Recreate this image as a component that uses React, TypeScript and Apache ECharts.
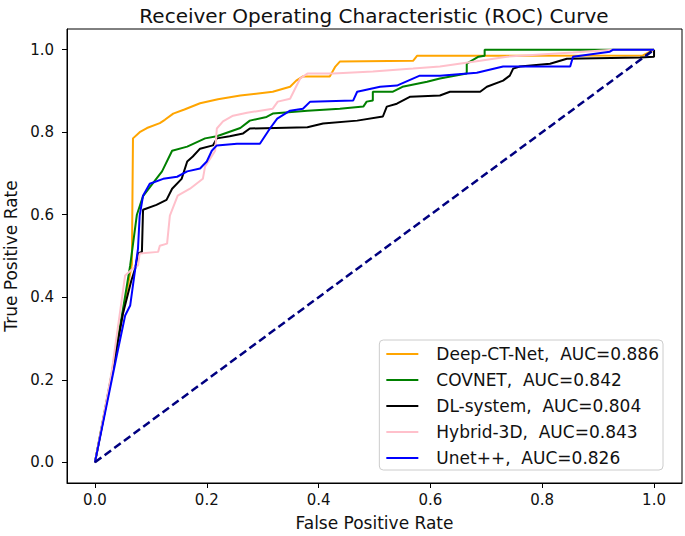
import React, { useEffect, useRef } from "react";
import * as echarts from "echarts";

const tickValues = [0, 0.2, 0.4, 0.6, 0.8, 1.0];

const deepCtNet: number[][] = [
  [0, 0], [0.03, 0.21], [0.055, 0.4], [0.066, 0.48], [0.068, 0.785], [0.08, 0.8], [0.093, 0.81],
  [0.116, 0.822], [0.125, 0.83], [0.14, 0.845], [0.16, 0.855], [0.188, 0.87], [0.22, 0.88],
  [0.26, 0.889], [0.318, 0.898], [0.349, 0.91], [0.36, 0.925], [0.372, 0.935], [0.42, 0.935],
  [0.43, 0.959], [0.438, 0.971], [0.569, 0.973], [0.576, 0.985], [0.98, 0.986], [1, 1],
];

const covnet: number[][] = [
  [0, 0], [0.03, 0.215], [0.05, 0.37], [0.063, 0.477], [0.075, 0.6], [0.086, 0.645], [0.1, 0.67],
  [0.12, 0.705], [0.138, 0.755], [0.165, 0.765], [0.197, 0.785], [0.218, 0.79], [0.26, 0.81],
  [0.277, 0.828], [0.307, 0.837], [0.318, 0.845], [0.38, 0.852], [0.438, 0.857], [0.48, 0.862],
  [0.486, 0.874], [0.497, 0.877], [0.497, 0.898], [0.533, 0.898], [0.55, 0.91], [0.594, 0.922],
  [0.617, 0.93], [0.665, 0.942], [0.665, 0.966], [0.686, 0.983], [0.697, 0.985], [0.697, 1.0], [1, 1],
];

const dlSystem: number[][] = [
  [0, 0], [0.03, 0.21], [0.05, 0.36], [0.065, 0.44], [0.072, 0.47], [0.077, 0.506], [0.084, 0.51],
  [0.086, 0.612], [0.11, 0.624], [0.128, 0.636], [0.138, 0.663], [0.155, 0.687], [0.165, 0.729],
  [0.175, 0.741], [0.188, 0.76], [0.211, 0.768], [0.218, 0.785], [0.241, 0.79], [0.265, 0.797],
  [0.277, 0.809], [0.38, 0.812], [0.408, 0.821], [0.469, 0.828], [0.515, 0.838], [0.522, 0.862],
  [0.54, 0.869], [0.564, 0.886], [0.617, 0.889], [0.635, 0.898], [0.689, 0.898], [0.701, 0.91],
  [0.73, 0.925], [0.742, 0.937], [0.748, 0.954], [0.76, 0.959], [0.814, 0.966], [0.844, 0.978],
  [0.975, 0.981], [1, 0.983], [1, 1],
];

const hybrid3D: number[][] = [
  [0, 0], [0.03, 0.22], [0.054, 0.453], [0.068, 0.47], [0.077, 0.477], [0.08, 0.506], [0.113, 0.51],
  [0.116, 0.525], [0.129, 0.53], [0.134, 0.598], [0.148, 0.646], [0.17, 0.663], [0.193, 0.687],
  [0.197, 0.717], [0.206, 0.736], [0.215, 0.755], [0.218, 0.809], [0.229, 0.826], [0.247, 0.84],
  [0.272, 0.847], [0.318, 0.857], [0.327, 0.874], [0.349, 0.881], [0.367, 0.93], [0.38, 0.942],
  [0.426, 0.942], [0.497, 0.947], [0.569, 0.954], [0.617, 0.959], [0.689, 0.973], [0.737, 0.983],
  [0.855, 0.993], [0.927, 1.0], [1, 1],
];

const unetPP: number[][] = [
  [0, 0], [0.039, 0.259], [0.054, 0.356], [0.063, 0.38], [0.077, 0.518], [0.08, 0.598],
  [0.086, 0.646], [0.098, 0.675], [0.122, 0.687], [0.147, 0.692], [0.165, 0.705], [0.188, 0.712],
  [0.2, 0.729], [0.209, 0.755], [0.218, 0.768], [0.254, 0.772], [0.295, 0.772], [0.313, 0.809],
  [0.326, 0.833], [0.349, 0.852], [0.372, 0.857], [0.385, 0.874], [0.462, 0.877], [0.469, 0.898],
  [0.51, 0.91], [0.54, 0.913], [0.581, 0.937], [0.617, 0.937], [0.683, 0.944], [0.73, 0.959],
  [0.85, 0.959], [0.855, 0.983], [0.921, 0.995], [0.927, 1.0], [1, 1],
];

const chance: number[][] = [[0, 0], [1, 1]];

const seriesNames = [
  "Deep-CT-Net,  AUC=0.886",
  "COVNET,  AUC=0.842",
  "DL-system,  AUC=0.804",
  "Hybrid-3D,  AUC=0.843",
  "Unet++,  AUC=0.826",
];
const seriesColors = ["#ffa500", "#008000", "#000000", "#ffc0cb", "#0000ff"];
const seriesData = [deepCtNet, covnet, dlSystem, hybrid3D, unetPP];

const FONT = "DejaVu Sans";

export default function App() {
  const ref = useRef<HTMLDivElement>(null);
  useEffect(() => {
    if (!ref.current) return;
    const chart = echarts.init(ref.current, null, { renderer: "svg" });
    const axisCommon = {
      type: "value" as const,
      min: -0.05,
      max: 1.05,
      splitLine: { show: false },
      axisLine: { show: true, onZero: false, lineStyle: { color: "#000", width: 1 } },
      axisTick: { show: true, length: 5, customValues: tickValues, lineStyle: { color: "#000" } },
      axisLabel: {
        customValues: tickValues,
        color: "#111",
        fontFamily: FONT,
        fontSize: 15,
        formatter: (v: number) => v.toFixed(1),
      },
      nameLocation: "middle" as const,
      nameTextStyle: { color: "#111", fontFamily: FONT, fontSize: 17 },
    };
    chart.setOption({
      animation: false,
      backgroundColor: "#fff",
      title: {
        text: "Receiver Operating Characteristic (ROC) Curve",
        left: 369,
        textAlign: "center",
        top: 1,
        textStyle: { color: "#111", fontFamily: FONT, fontSize: 20, fontWeight: "normal" },
      },
      grid: {
        left: 67,
        right: 3,
        top: 29,
        bottom: 53,
        containLabel: false,
        outerBoundsMode: "none",
        show: true,
        borderColor: "#000",
        borderWidth: 1,
        backgroundColor: "transparent",
      },
      xAxis: { ...axisCommon, name: "False Positive Rate", nameGap: 31, axisLabel: { ...axisCommon.axisLabel, margin: 9 } },
      yAxis: { ...axisCommon, name: "True Positive Rate", nameGap: 45, axisLabel: { ...axisCommon.axisLabel, margin: 13 } },
      legend: {
        data: seriesNames,
        orient: "vertical",
        right: 22,
        bottom: 66,
        icon: "rect",
        itemWidth: 32,
        itemHeight: 2,
        itemGap: 8,
        padding: [5, 4, 3, 7],
        backgroundColor: "#fff",
        borderColor: "#cccccc",
        borderWidth: 1,
        borderRadius: 4,
        textStyle: { color: "#111", fontFamily: FONT, fontSize: 17, lineHeight: 18, padding: [0, 0, 0, 13] },
      },
      series: [
        ...seriesData.map((d, i) => ({
          name: seriesNames[i],
          type: "line",
          data: d,
          symbol: "none",
          showSymbol: false,
          color: seriesColors[i],
          lineStyle: { color: seriesColors[i], width: 2 },
          z: 3 + i,
        })),
        {
          name: "chance",
          type: "line",
          data: chance,
          symbol: "none",
          showSymbol: false,
          color: "#000080",
          lineStyle: { color: "#000080", width: 2.5, type: [8, 4] },
          z: 10,
        },
      ],
    });
    return () => chart.dispose();
  }, []);
  return <div ref={ref} style={{ width: 685, height: 536, position: "absolute", left: 0, top: 0 }} />;
}
